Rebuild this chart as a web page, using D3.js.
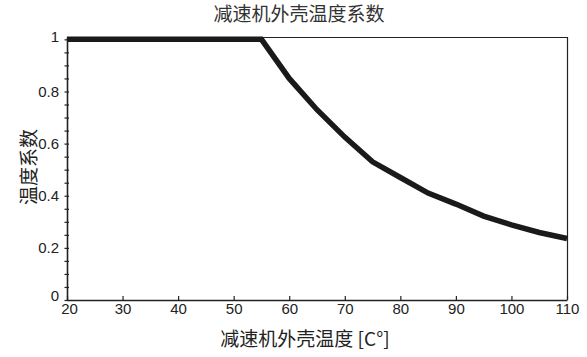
<!DOCTYPE html>
<html>
<head>
<meta charset="utf-8">
<script src="https://cdn.jsdelivr.net/npm/d3@7"></script>
<style>
  html, body { margin: 0; padding: 0; background: #fff; }
  svg { display: block; }
</style>
</head>
<body>
<svg id="chart" width="587" height="357"></svg>
<script>
// ---- data ----
const temps = [20, 25, 30, 35, 40, 45, 50, 55, 60, 65, 70, 75, 80, 85, 90, 95, 100, 105, 110];
const coeffs = [1, 1, 1, 1, 1, 1, 1, 1, 0.85, 0.73, 0.625, 0.53, 0.47, 0.41, 0.368, 0.322, 0.288, 0.259, 0.236];
const xTickValues = [20, 30, 40, 50, 60, 70, 80, 90, 100, 110];
const yMajorTicks = [0, 0.2, 0.4, 0.6, 0.8, 1];
const yMinorTicks = [0, 0.05, 0.1, 0.15, 0.2, 0.25, 0.3, 0.35, 0.4, 0.45, 0.5, 0.55, 0.6, 0.65, 0.7, 0.75, 0.8, 0.85, 0.9, 0.95, 1];
const chartTitle = "减速机外壳温度系数";
const xTitle = "减速机外壳温度 [C°]";
const yTitle = "温度系数";

// ---- layout ----
const svg = d3.select("#chart");
const m = { left: 67, right: 20, top: 37, bottom: 57 };
const W = 587, H = 357;
const iw = W - m.left - m.right, ih = H - m.top - m.bottom;

const x = d3.scaleLinear().domain([20, 110]).range([0, iw]);
const y = d3.scaleLinear().domain([0, 1.009]).range([ih, 0]);

const g = svg.append("g").attr("transform", `translate(${m.left},${m.top})`);

const numFont = "'Liberation Sans', Arial, sans-serif";
const cjkFont = "'Noto Sans CJK SC', 'Noto Sans', sans-serif";
const ink = "#222";

// frame top/right
g.append("line").attr("x1", 0).attr("x2", iw).attr("y1", 0.5).attr("y2", 0.5)
  .attr("stroke", ink).attr("stroke-width", 1.2);
g.append("line").attr("x1", iw + 0.5).attr("x2", iw + 0.5).attr("y1", 0).attr("y2", ih)
  .attr("stroke", ink).attr("stroke-width", 1.2);

// x axis
const xAxis = g.append("g").attr("transform", `translate(0,${ih})`)
  .call(d3.axisBottom(x).tickValues(xTickValues).tickSizeInner(-4).tickSizeOuter(0).tickPadding(3.5));
xAxis.select(".domain").attr("stroke", ink).attr("stroke-width", 1.6);
xAxis.selectAll(".tick line").attr("stroke", ink).attr("stroke-width", 1.2);
xAxis.selectAll(".tick text")
  .attr("font-family", numFont).attr("font-size", 15).attr("fill", ink)
  .attr("dx", d => d === 20 ? 2 : 0);

// y axis (minor + major ticks crossing the axis)
const yAxis = g.append("g")
  .call(d3.axisLeft(y).tickValues(yMinorTicks).tickSizeInner(2.5).tickSizeOuter(0).tickPadding(5.5)
    .tickFormat(d => yMajorTicks.some(v => Math.abs(v - d) < 1e-9) ? d3.format("~g")(d) : ""));
yAxis.select(".domain").attr("stroke", ink).attr("stroke-width", 1.6);
yAxis.selectAll(".tick line").attr("x1", 2).attr("x2", -2.5).attr("stroke", ink).attr("stroke-width", 1.2);
yAxis.selectAll(".tick text")
  .attr("font-family", numFont).attr("font-size", 15).attr("fill", ink)
  .attr("transform", d => d === 0 ? "translate(0,-4.5)" : (d === 1 ? "translate(0,-2.5)" : null));

// data line
const line = d3.line().x((d, i) => x(temps[i])).y(d => y(d));
g.append("path").datum(coeffs)
  .attr("d", line)
  .attr("fill", "none")
  .attr("stroke", "#1a1a1a")
  .attr("stroke-width", 5.5)
  .attr("stroke-linejoin", "miter");

// titles
svg.append("text").attr("x", 299).attr("y", 20.5).attr("text-anchor", "middle")
  .attr("font-family", cjkFont).attr("font-size", 19).attr("fill", "#333").text(chartTitle);

svg.append("text").attr("x", 305).attr("y", 337).attr("text-anchor", "middle")
  .attr("dominant-baseline", "central")
  .attr("font-family", cjkFont).attr("font-size", 19).attr("fill", ink).text(xTitle);

svg.append("text").attr("transform", "translate(27,167) rotate(-90)")
  .attr("text-anchor", "middle").attr("dominant-baseline", "central")
  .attr("font-family", cjkFont).attr("font-size", 19).attr("fill", ink).text(yTitle);
</script>
</body>
</html>
